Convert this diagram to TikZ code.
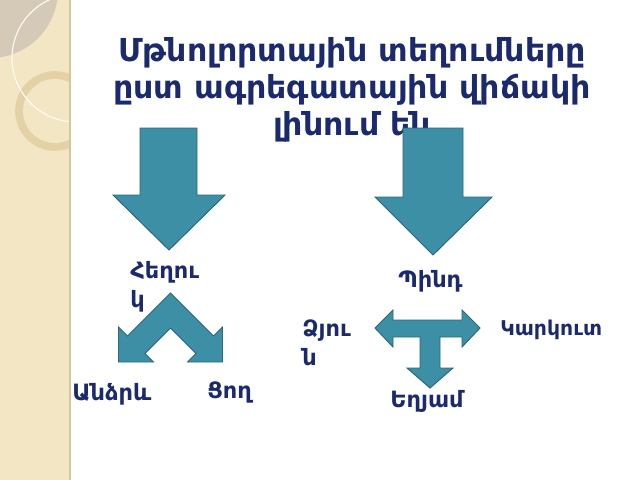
\documentclass[tikz,border=0pt]{standalone}
\usepackage{fontspec}
\setmainfont{DejaVu Sans}
\usetikzlibrary{positioning}
\definecolor{navy}{RGB}{27,42,108}
\definecolor{arrowfill}{RGB}{61,143,166}
\definecolor{arrowedge}{RGB}{42,104,122}
\definecolor{stripfill}{RGB}{243,230,197}
\definecolor{stripedge}{RGB}{214,198,158}
\definecolor{lensfill}{RGB}{212,202,183}
\definecolor{ringcol}{RGB}{228,210,166}

\begin{document}
\begin{tikzpicture}[x=0.025cm, y=-0.025cm,
    flow/.style={fill=arrowfill, draw=arrowedge, line width=0.7pt, line join=miter},
    word/.style={text=navy, inner sep=0pt, align=left, font=\bfseries\fontsize{16}{20.6}\selectfont},
    head/.style={text=navy, inner sep=0pt, align=center, font=\bfseries\fontsize{22.5}{26.3}\selectfont}
]
    \useasboundingbox (0,0) rectangle (640,480);
    %фон слева
    \fill[stripfill] (0,0) rectangle (70,480);
    \begin{scope}
        \clip (0,0) rectangle (70,480);
        \fill[lensfill] (-10,-10) circle (68);
        \draw[ringcol, line width=5.5pt] (55,111) circle (36);
        \draw[white!85!stripfill, line width=0.8pt] (76,58) circle (64);
    \end{scope}
    \draw[stripedge, line width=0.8pt] (70,0) -- (70,480);

    %заголовок (base = последняя строка)
    \node[head, anchor=base] (title) at (352,135)
        {Մթնոլորտային տեղումները\\ըստ ագրեգատային վիճակի\\լինում են};

    %большие стрелки
    \draw[flow] (140,128) -- (197,128) -- (197,195) -- (225,195) -- (169,250)
        -- (113,195) -- (140,195) -- cycle;
    \draw[flow] (403,128) -- (463,128) -- (463,197) -- (492,197) -- (433,255)
        -- (375,197) -- (403,197) -- cycle;

    %жидкие
    \node[word, anchor=base west] (liquid) at (130,307) {Հեղու\\կ};
    \draw[flow] (170.5,293) -- (127.5,336) -- (118.5,327) -- (118.5,362)
        -- (153.5,362) -- (145,353.5) -- (170.5,328) -- (196,353.5)
        -- (187.5,362) -- (222.5,362) -- (222.5,327) -- (213.5,336) -- cycle;
    \node[word, anchor=base west] (rain) at (72,400) {Անձրև};
    \node[word, anchor=base west] (dew) at (207,398) {Ցող};

    %твердые
    \node[word, anchor=base west] (solid) at (398,287) {Պինդ};
    \draw[flow] (375,328) -- (393,310) -- (393,320) -- (462,320) -- (462,310)
        -- (480,328) -- (462,347) -- (462,337) -- (440,337) -- (440,368)
        -- (453,368) -- (430,388) -- (407,368) -- (420,368) -- (420,337)
        -- (393,337) -- (393,347) -- cycle;
    \node[word, anchor=base west] (snow) at (302,365) {Ձյու\\ն};
    \node[word, anchor=base west, font=\bfseries\fontsize{14.5}{18}\selectfont] (hail) at (500,335) {Կարկուտ};
    \node[word, anchor=base west] (frost) at (390,407) {Եղյամ};
\end{tikzpicture}
\end{document}
